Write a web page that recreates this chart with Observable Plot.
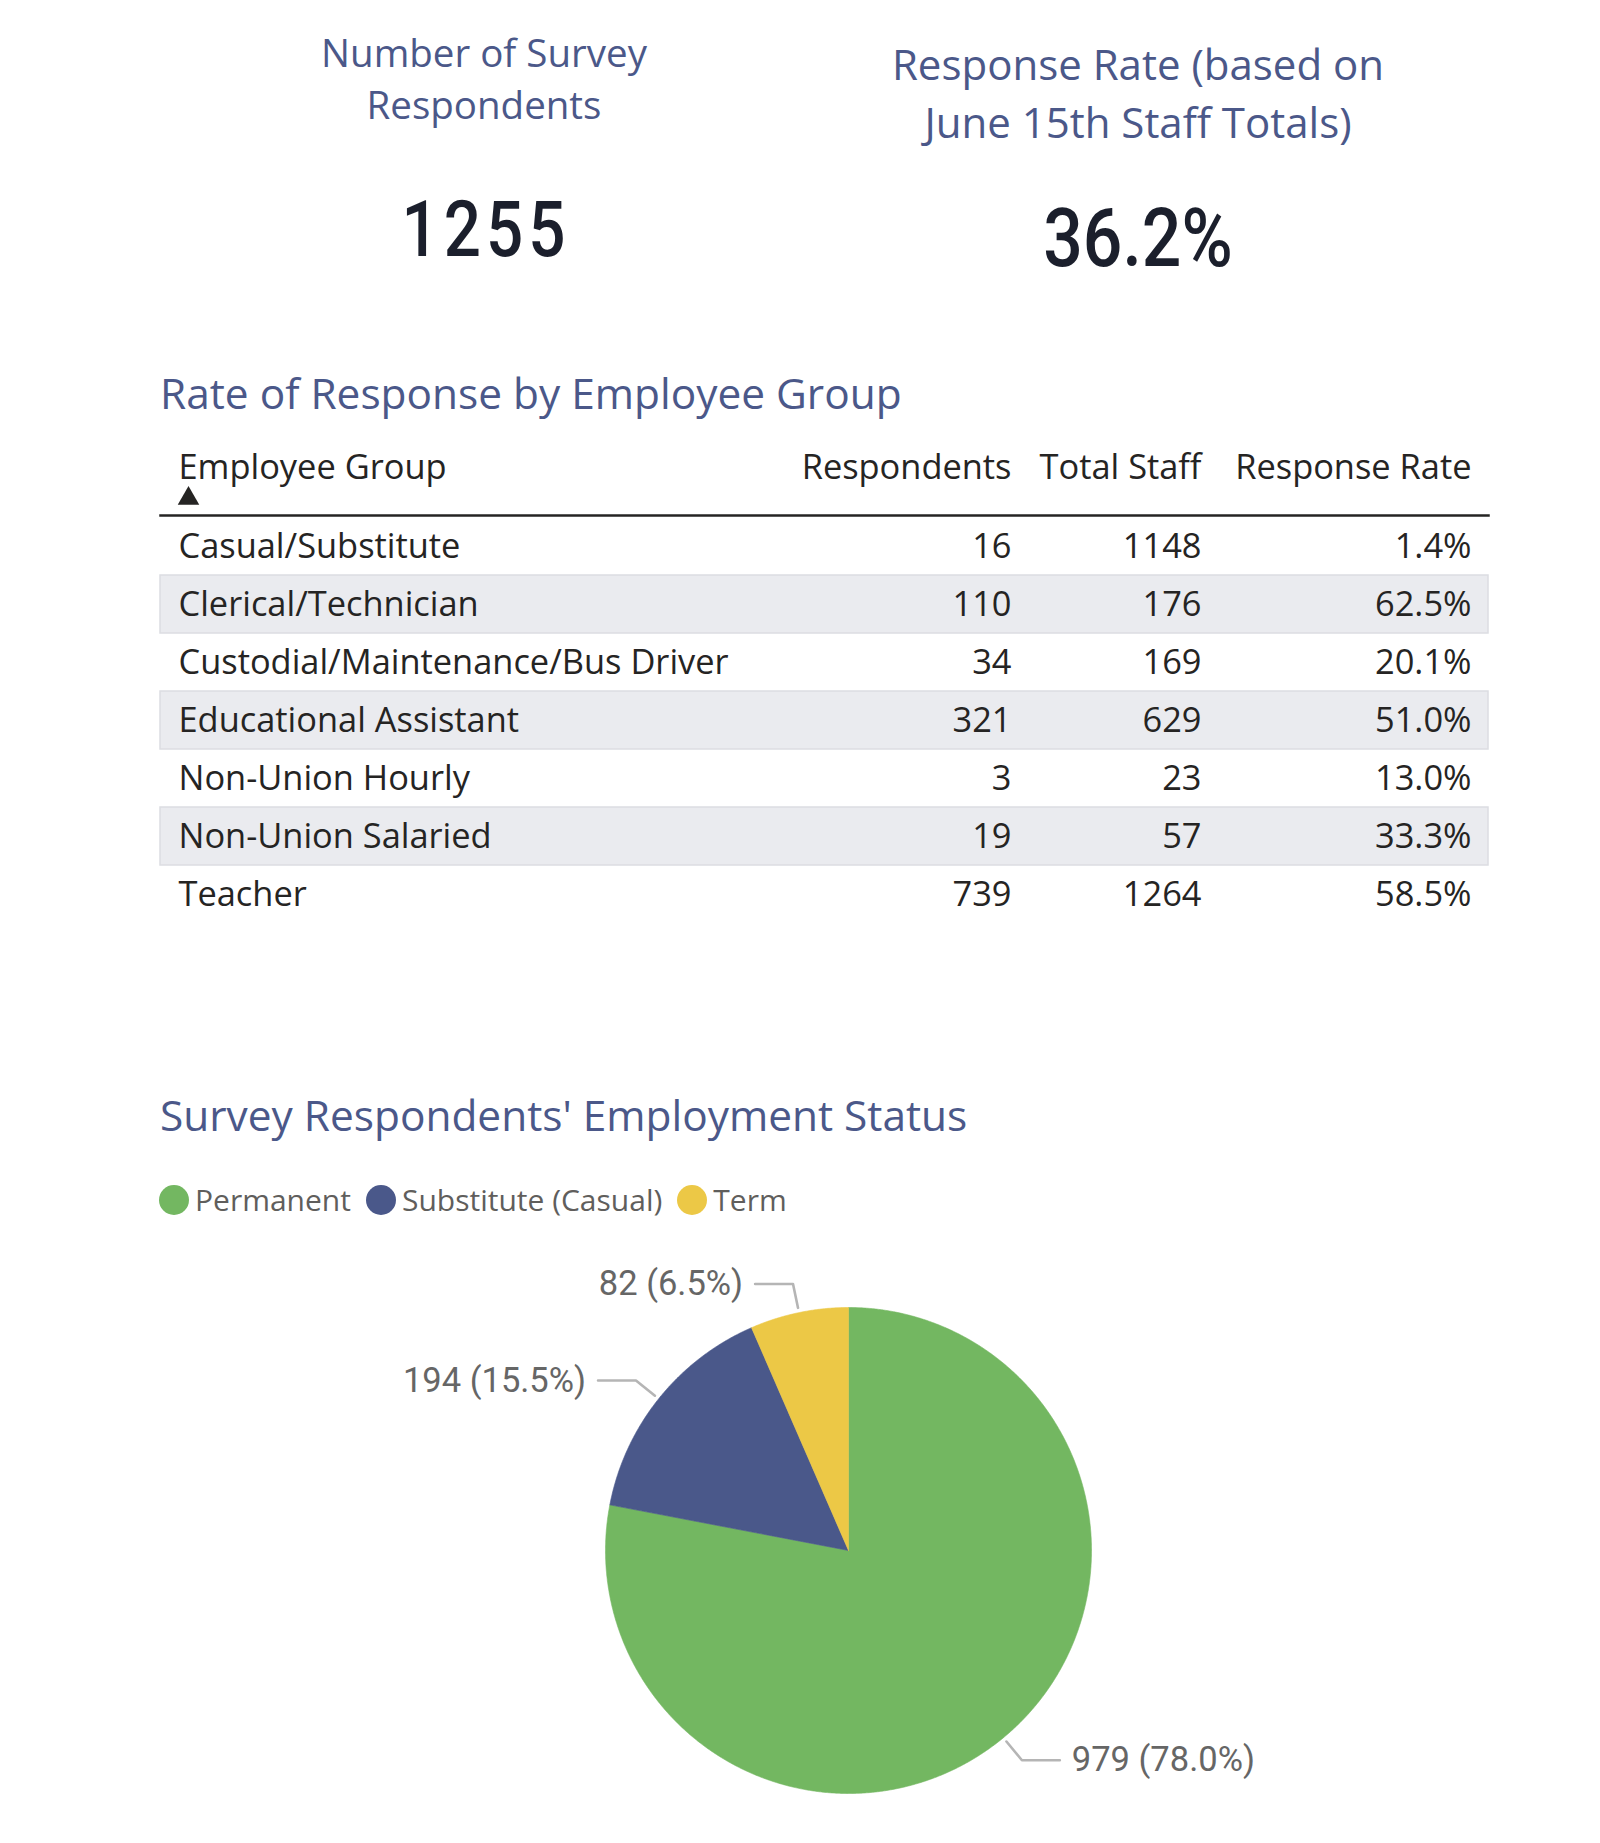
<!DOCTYPE html>
<html>
<head>
<meta charset="utf-8">
<script src="https://cdn.jsdelivr.net/npm/d3@7"></script>
<script src="https://cdn.jsdelivr.net/npm/@observablehq/plot@0.6"></script>
<style>
  body { margin: 0; background: #fff; }
  #page { position: relative; width: 1600px; height: 1843px; overflow: hidden; font-family: "Open Sans", sans-serif; background: #fff; }
  .abs { position: absolute; }
  .kpi-title { color: #4b5889; text-align: center; white-space: pre; }
  .kpi-value { color: #1b1f2c; text-align: center; font-family: Roboto, sans-serif; font-weight: 500; line-height: 1; white-space: pre; }
  .section-title { color: #4b5889; font-size: 42.4px; line-height: 56px; white-space: pre; }
  .legend { display: flex; align-items: center; gap: 15px; color: #605e5c; font-size: 30px; line-height: 40px; }
  .legend-item { display: flex; align-items: center; gap: 6px; }
  .swatch { width: 30px; height: 30px; border-radius: 50%; display: inline-block; }
  svg { position: absolute; left: 0; }
</style>
</head>
<body>
<div id="page"></div>
<script>
// ---------- data ----------
const kpiLabels = ["Number of Survey\nRespondents", "Response Rate (based on\nJune 15th Staff Totals)"];
const kpiValues = ["1255", "36.2%"];

const tableTitle = "Rate of Response by Employee Group";
const columns = ["Employee Group", "Respondents", "Total Staff", "Response Rate"];
const groups = ["Casual/Substitute", "Clerical/Technician", "Custodial/Maintenance/Bus Driver",
  "Educational Assistant", "Non-Union Hourly", "Non-Union Salaried", "Teacher"];
const respondents = [16, 110, 34, 321, 3, 19, 739];
const totalStaff = [1148, 176, 169, 629, 23, 57, 1264];
const responseRates = ["1.4%", "62.5%", "20.1%", "51.0%", "13.0%", "33.3%", "58.5%"];

const pieTitle = "Survey Respondents' Employment Status";
const statuses = ["Permanent", "Substitute (Casual)", "Term"];
const statusCounts = [979, 194, 82];
const statusShares = ["78.0%", "15.5%", "6.5%"];
const statusColors = ["#73B761", "#4A588A", "#ECC846"];

// ---------- page ----------
const page = document.getElementById("page");
function div(cls, text, style) {
  const d = document.createElement("div");
  d.className = "abs " + cls;
  d.textContent = text;
  Object.assign(d.style, style);
  page.appendChild(d);
  return d;
}

// KPI cards
div("kpi-title", kpiLabels[0], {left: "184px", width: "600px", top: "26px", fontSize: "38.5px", lineHeight: "52px"});
div("kpi-title", kpiLabels[1], {left: "838px", width: "600px", top: "35px", fontSize: "42px", lineHeight: "58px"});
div("kpi-value", kpiValues[0], {left: "186px", width: "600px", top: "191px", fontSize: "78px", letterSpacing: "6px", transform: "scaleX(0.84)", transformOrigin: "300px 0"});
div("kpi-value", kpiValues[1], {left: "838px", width: "600px", top: "197px", fontSize: "82px", transform: "scaleX(0.85)", transformOrigin: "300px 0"});

// Section titles
div("section-title", tableTitle, {left: "160px", top: "365px"});
div("section-title", pieTitle, {left: "160px", top: "1087px"});

// Legend
const legend = document.createElement("div");
legend.className = "abs legend";
Object.assign(legend.style, {left: "159px", top: "1180px"});
statuses.forEach((s, i) => {
  const item = document.createElement("div");
  item.className = "legend-item";
  const sw = document.createElement("span");
  sw.className = "swatch";
  sw.style.background = statusColors[i];
  const lab = document.createElement("span");
  lab.textContent = s;
  item.appendChild(sw); item.appendChild(lab);
  legend.appendChild(item);
});
page.appendChild(legend);

// ---------- table ----------
const rows = groups.map((g, i) => ({group: g, idx: i,
  cells: [g, String(respondents[i]), String(totalStaff[i]), responseRates[i]]}));
const cellData = rows.flatMap(r => r.cells.map((t, c) => ({group: r.group, col: c, text: t})));
const headerData = columns.map((t, c) => ({col: c, text: t}));
const textStyle = {fontSize: 34.4, fill: "#252423", fontFamily: "Open Sans", lineAnchor: "middle"};

const table = Plot.plot({
  width: 1600, height: 520,
  marginTop: 95, marginBottom: 15.5, marginLeft: 160, marginRight: 112,
  x: {type: "linear", domain: [0, 1, 2, 3], range: [178, 1011, 1201, 1471], axis: null},
  y: {type: "band", domain: groups, padding: 0, axis: null},
  style: {background: "transparent", fontFamily: "Open Sans"},
  marks: [
    Plot.cell(rows.filter(r => r.idx % 2 === 1), {y: "group", fill: "#eaebef", stroke: "#dcdde2", strokeWidth: 1.5}),
    Plot.frame({anchor: "top", stroke: "#252423", strokeWidth: 2.5}),
    Plot.text(cellData.filter(d => d.col === 0), {x: "col", y: "group", text: "text", textAnchor: "start", ...textStyle}),
    Plot.text(cellData.filter(d => d.col > 0), {x: "col", y: "group", text: "text", textAnchor: "end", ...textStyle}),
    Plot.text(headerData.filter(d => d.col === 0), {x: "col", frameAnchor: "top", dy: -48, text: "text", textAnchor: "start", ...textStyle}),
    Plot.text(headerData.filter(d => d.col > 0), {x: "col", frameAnchor: "top", dy: -48, text: "text", textAnchor: "end", ...textStyle}),
    Plot.dot(headerData.filter(d => d.col === 0), {x: "col", frameAnchor: "top", dy: -17, dx: 10, symbol: "triangle", r: 8, fill: "#252423", stroke: null})
  ]
});
table.style.top = "420px";
page.appendChild(table);

// ---------- pie ----------
const statusData = statuses.map((s, i) => ({status: s, count: statusCounts[i], share: statusShares[i]}));
const arcs = d3.pie().sort(null).value(d => d.count)(statusData);
const slicePts = arcs.flatMap(a => {
  const n = Math.max(4, Math.ceil((a.endAngle - a.startAngle) / 0.005));
  const pts = [{status: a.data.status, x: 0, y: 0}];
  for (let i = 0; i <= n; i++) {
    const t = a.startAngle + (a.endAngle - a.startAngle) * i / n;
    pts.push({status: a.data.status, x: Math.sin(t), y: Math.cos(t)});
  }
  pts.push({status: a.data.status, x: 0, y: 0});
  return pts;
});
const labelInfo = arcs.map(a => {
  const m = (a.startAngle + a.endAngle) / 2;
  const side = Math.sin(m) >= 0 ? 1 : -1;
  const ex = Math.sin(m) * 1.12, ey = Math.cos(m) * 1.12;
  return {status: a.data.status, side,
    label: `${a.data.count} (${a.data.share})`,
    pts: [{x: Math.sin(m) * 1.02, y: Math.cos(m) * 1.02}, {x: ex, y: ey}, {x: ex + side * 0.156, y: ey}]};
});
const leaderPts = labelInfo.flatMap(l => l.pts.map(p => ({status: l.status, ...p})));
const labelPts = labelInfo.map(l => ({status: l.status, side: l.side, label: l.label, x: l.pts[2].x, y: l.pts[2].y}));
const labelStyle = {fontSize: 34.5, fill: "#666666", fontFamily: "Roboto"};

const pie = Plot.plot({
  width: 1600, height: 593,
  x: {domain: [-1, 1], range: [605, 1091], axis: null},
  y: {domain: [-1, 1], range: [543, 57], axis: null},
  color: {domain: statuses, range: statusColors},
  style: {background: "transparent"},
  marks: [
    Plot.line(slicePts, {x: "x", y: "y", z: "status", fill: "status", stroke: "status", strokeWidth: 0.6}),
    Plot.line(leaderPts, {x: "x", y: "y", z: "status", stroke: "#b5b5b5", strokeWidth: 2.6}),
    Plot.text(labelPts.filter(d => d.side > 0), {x: "x", y: "y", text: "label", textAnchor: "start", dx: 12, ...labelStyle}),
    Plot.text(labelPts.filter(d => d.side < 0), {x: "x", y: "y", text: "label", textAnchor: "end", dx: -12, ...labelStyle})
  ]
});
pie.style.top = "1250px";
page.appendChild(pie);
</script>
</body>
</html>
